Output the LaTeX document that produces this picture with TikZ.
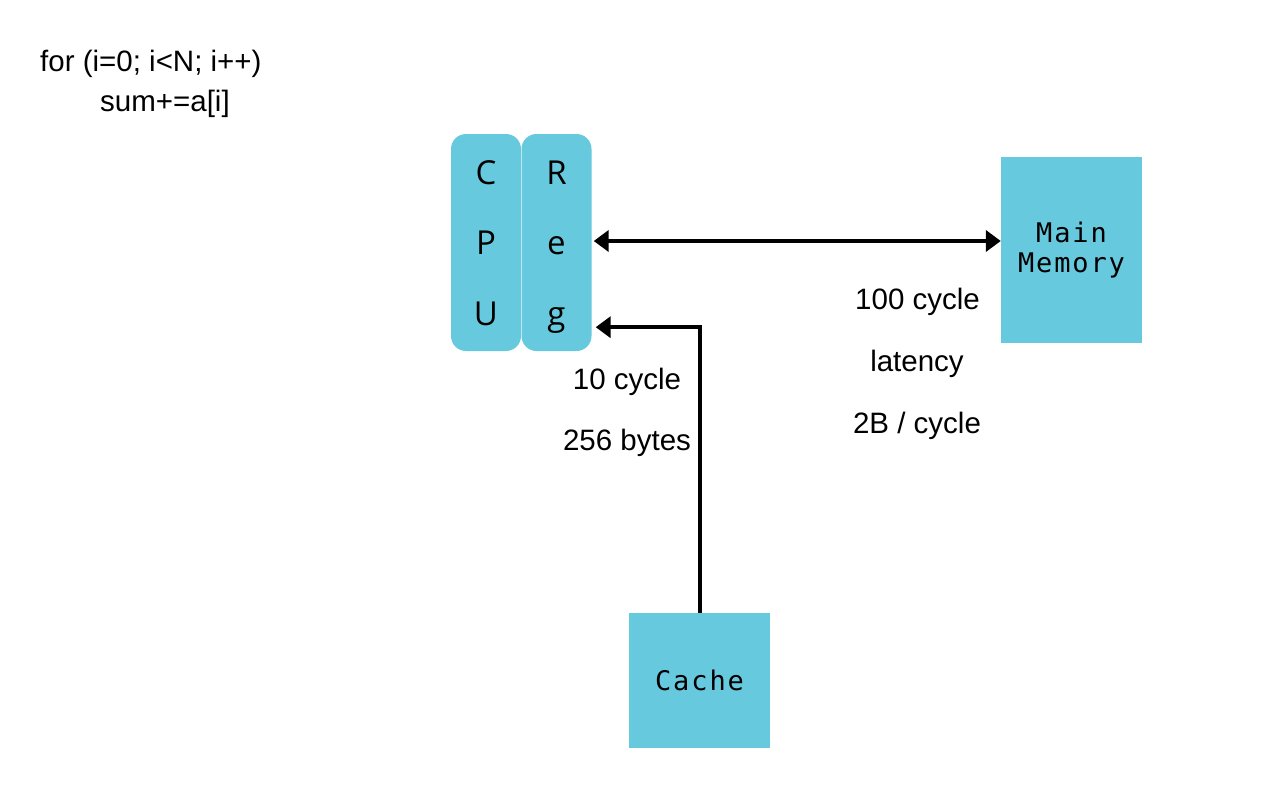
\documentclass[tikz,border=0pt]{standalone}
\usepackage{fontspec}
\setmainfont{Liberation Sans}
\newfontfamily\cpufont{Open Sans}
\newfontfamily\monofont[LetterSpace=7]{DejaVu Sans Mono}
\usetikzlibrary{arrows.meta}
\definecolor{boxblue}{RGB}{102,201,222}
\tikzset{
  cpubox/.style={fill=boxblue, rounded corners=15pt, minimum width=70pt, minimum height=217pt, inner sep=0pt},
  membox/.style={fill=boxblue, inner sep=0pt, align=center, font=\monofont\fontsize{27}{30}\selectfont},
  letter/.style={anchor=base, inner sep=0pt, font=\cpufont\fontsize{33}{36}\selectfont},
  lbl/.style={anchor=base, inner sep=0pt, font=\fontsize{29.5}{34}\selectfont},
  arr/.style={line width=4pt, -{Triangle[length=15pt,width=21pt]}},
  barr/.style={line width=4pt, {Triangle[length=15pt,width=21pt]}-{Triangle[length=15pt,width=21pt]}}
}
\begin{document}
\begin{tikzpicture}[x=1pt,y=-1pt]
\useasboundingbox[fill=white] (0,0) rectangle (1280,800);
% code
\node[lbl, anchor=base west] (code1) at (40,72) {for (i=0; i<N; i++)};
\node[lbl, anchor=base west] (code2) at (100,111) {sum+=a[i]};
% CPU and Reg
\node[cpubox] (cpu) at (486,242.5) {};
\node[cpubox] (reg) at (556.5,242.5) {};
\node[letter] (c1) at (486,184) {C};
\node[letter] (c2) at (486,254) {P};
\node[letter] (c3) at (486,325) {U};
\node[letter] (r1) at (556.5,184) {R};
\node[letter] (r2) at (556.5,254) {e};
\node[letter] (r3) at (556.5,325) {g};
% Main memory
\node[membox, minimum width=141pt, minimum height=186pt] (mem) at (1071.5,250) {Main\\Memory};
% Cache
\node[membox, minimum width=141pt, minimum height=135pt] (cache) at (699.5,680.5) {Cache};
% connectors
\coordinate (rin1) at ([xshift=2pt,yshift=1.5pt]reg.east);
\coordinate (rin2) at ([xshift=4pt,yshift=24pt]reg.south east);
\draw[barr] (rin1) -- (mem.west |- rin1);
\draw[arr] (cache.north) |- (rin2);
% labels
\node[lbl] (l1) at (917.5,309) {100 cycle};
\node[lbl] (l2) at (917,371) {latency};
\node[lbl] (l3) at (917,433) {2B / cycle};
\node[lbl] (l4) at (627,389) {10 cycle};
\node[lbl] (l5) at (627,450) {256 bytes};
\end{tikzpicture}
\end{document}
